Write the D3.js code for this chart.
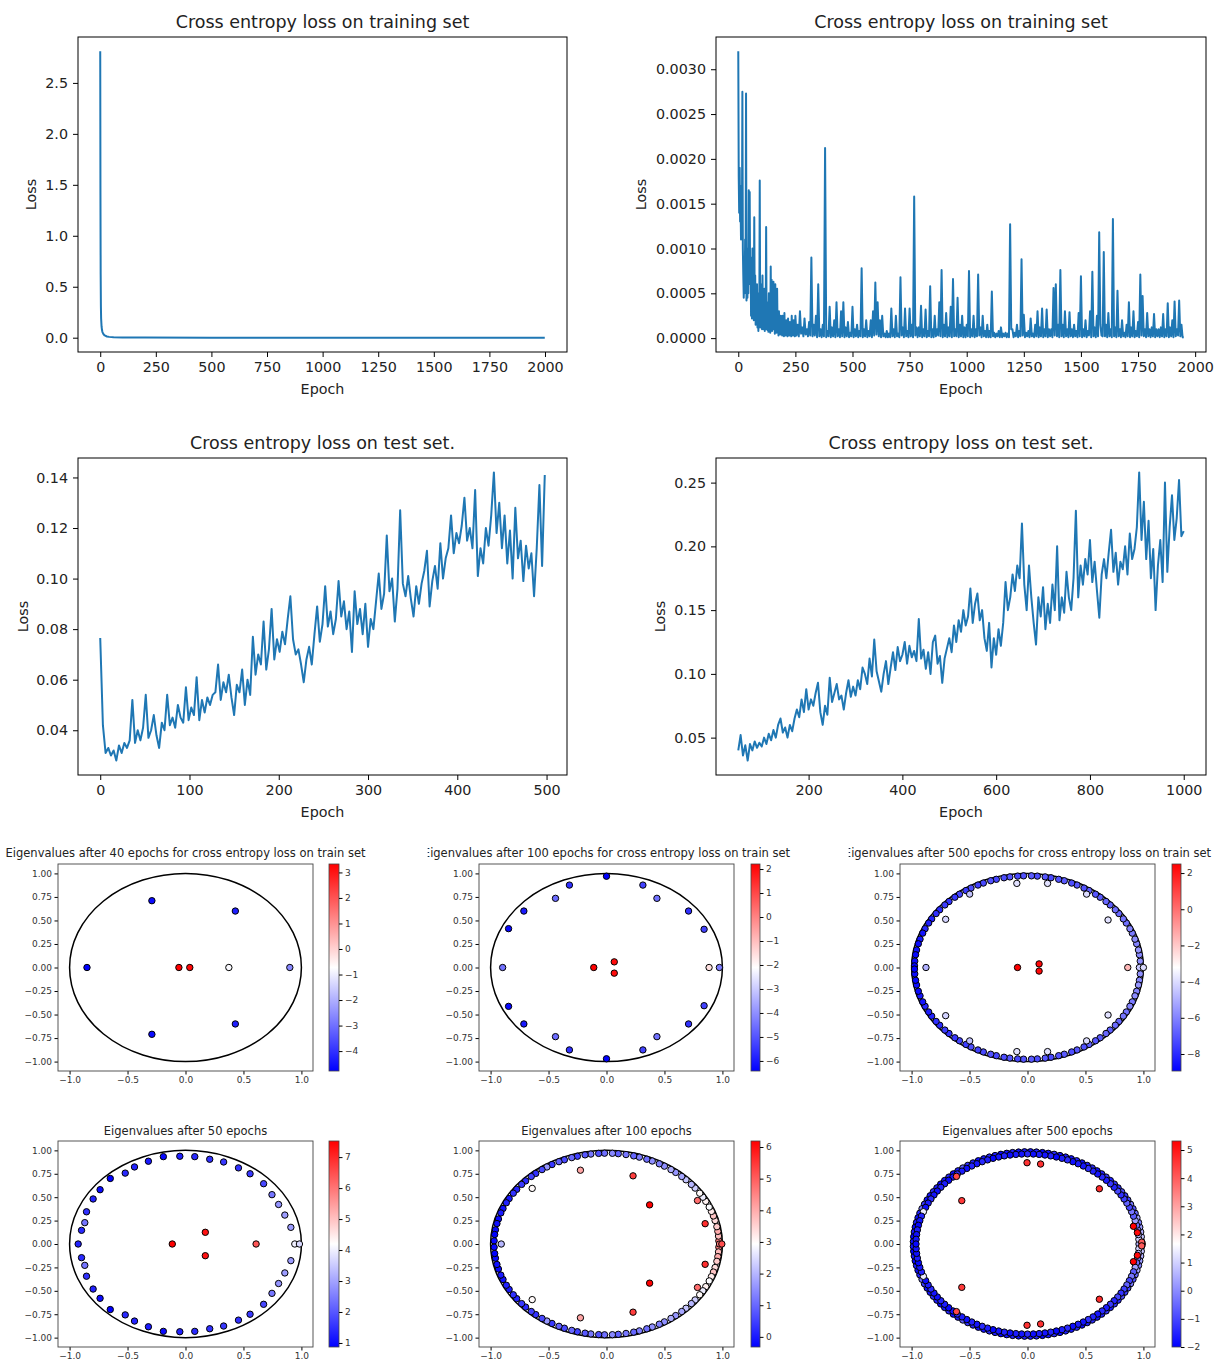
<!DOCTYPE html>
<html>
<head>
<meta charset="utf-8">
<script src="https://cdn.jsdelivr.net/npm/d3@7"></script>
<style>
  body { margin: 0; background: #fff; }
  svg text { font-family: "DejaVu Sans", sans-serif; }
</style>
</head>
<body>
<svg id="fig" width="1216" height="1362"></svg>
<script>
// ---------- loss curves ----------
// training loss, first run (irregular epochs, it drops almost straight away)
const trainEpochsA = [0, 1, 2, 3, 4, 6, 8, 10, 15, 20, 30, 40, 60, 100, 200, 500, 1000, 1500, 1999];
const trainLossA = [2.81, 1.40, 0.62, 0.31, 0.19, 0.11, 0.075, 0.055, 0.033, 0.022, 0.012, 0.008, 0.004, 0.002, 0.001, 0.0005, 0.0003, 0.0002, 0.0001];

// training loss, second run: every 2 epochs for 0..248, then every 5 epochs for 250..1950
const trainLossB_early = [
  32e-4, 18e-4, 14e-4, 19e-4, 13e-4, 15e-4, 11e-4, 17e-4, 12e-4, 27.5e-4,
  10e-4, 7e-4, 4.5e-4, 9e-4, 5e-4, 11e-4, 6e-4, 27.3e-4, 4.2e-4, 8e-4,
  4.5e-4, 10e-4, 5e-4, 16.5e-4, 7e-4, 16.3e-4, 6e-4, 9e-4, 2.5e-4, 8e-4,
  2.2e-4, 10e-4, 3e-4, 6e-4, 2e-4, 13.5e-4, 3e-4, 7e-4, 1.5e-4, 5e-4,
  2e-4, 6e-4, 1.2e-4, 4e-4, 0.8e-4, 5e-4, 1.5e-4, 17.6e-4, 1.2e-4, 6e-4,
  1.5e-4, 4e-4, 1e-4, 7e-4, 1.2e-4, 3.5e-4, 1e-4, 5.5e-4, 0.8e-4, 3e-4,
  1.5e-4, 12.4e-4, 1e-4, 4e-4, 0.9e-4, 3e-4, 0.7e-4, 5e-4, 1e-4, 2.5e-4,
  0.6e-4, 8e-4, 1.5e-4, 6.5e-4, 0.8e-4, 3e-4, 1e-4, 6.3e-4, 1e-4, 4e-4,
  0.5e-4, 6e-4, 1e-4, 2.8e-4, 0.6e-4, 5.5e-4, 1.2e-4, 2e-4, 0.3e-4, 3e-4,
  0.8e-4, 2.2e-4, 0.4e-4, 2.5e-4, 0.6e-4, 1.8e-4, 0.3e-4, 2.5e-4, 0.5e-4, 1.8e-4,
  0.2e-4, 2.8e-4, 0.6e-4, 1.5e-4, 0.3e-4, 2e-4, 0.5e-4, 1.2e-4, 0.2e-4, 2.2e-4,
  0.6e-4, 1.5e-4, 0.3e-4, 1.8e-4, 0.4e-4, 1.2e-4, 0.2e-4, 2.5e-4, 0.5e-4, 1.5e-4,
  0.3e-4, 2e-4, 0.6e-4, 1.3e-4, 0.2e-4
];
const trainLossB_late = [
  2.5e-4, 0.3e-4, 1.5e-4, 0.2e-4, 3.0e-4, 0.5e-4, 1.2e-4, 0.2e-4, 2.2e-4, 0.4e-4,
  1.0e-4, 0.2e-4, 1.8e-4, 0.3e-4, 9.0e-4, 0.2e-4, 1.5e-4, 0.3e-4, 2.5e-4, 0.1e-4,
  6.0e-4, 0.2e-4, 1.0e-4, 0.1e-4, 1.5e-4, 0.2e-4, 21.2e-4, 0.1e-4, 0.8e-4, 0.2e-4,
  3.5e-4, 0.1e-4, 1.2e-4, 0.2e-4, 2.0e-4, 0.1e-4, 4.0e-4, 0.2e-4, 1.0e-4, 0.1e-4,
  3.0e-4, 0.2e-4, 4.0e-4, 0.1e-4, 1.2e-4, 0.2e-4, 1.8e-4, 0.1e-4, 0.6e-4, 0.2e-4,
  3.5e-4, 0.1e-4, 1.0e-4, 0.2e-4, 1.5e-4, 0.1e-4, 0.8e-4, 0.2e-4, 7.8e-4, 0.1e-4,
  1.0e-4, 0.2e-4, 2.0e-4, 0.1e-4, 0.8e-4, 0.2e-4, 2.0e-4, 0.1e-4, 3.0e-4, 0.3e-4,
  6.2e-4, 0.4e-4, 4.0e-4, 0.2e-4, 2.0e-4, 0.1e-4, 2.5e-4, 0.2e-4, 0.5e-4, 0.1e-4,
  0.8e-4, 0.1e-4, 0.5e-4, 0.1e-4, 3.3e-4, 0.2e-4, 1.0e-4, 0.1e-4, 2.5e-4, 0.2e-4,
  0.5e-4, 0.1e-4, 6.8e-4, 0.3e-4, 1.2e-4, 0.1e-4, 3.3e-4, 0.2e-4, 0.8e-4, 0.1e-4,
  3.3e-4, 0.2e-4, 1.5e-4, 0.1e-4, 15.8e-4, 0.3e-4, 1.2e-4, 0.1e-4, 1.2e-4, 0.2e-4,
  3.6e-4, 0.1e-4, 1.0e-4, 0.2e-4, 3.2e-4, 0.1e-4, 0.8e-4, 0.2e-4, 5.8e-4, 0.1e-4,
  1.0e-4, 0.1e-4, 2.5e-4, 0.2e-4, 1.0e-4, 0.3e-4, 4.0e-4, 0.2e-4, 7.6e-4, 0.1e-4,
  1.5e-4, 0.2e-4, 2.8e-4, 0.1e-4, 1.2e-4, 0.2e-4, 3.5e-4, 0.1e-4, 6.6e-4, 0.2e-4,
  1.0e-4, 0.2e-4, 4.5e-4, 0.1e-4, 1.5e-4, 0.2e-4, 2.5e-4, 0.1e-4, 1.2e-4, 0.1e-4,
  1.5e-4, 0.2e-4, 7.5e-4, 0.1e-4, 1.0e-4, 0.2e-4, 2.5e-4, 0.1e-4, 1.0e-4, 0.2e-4,
  7.1e-4, 0.3e-4, 1.2e-4, 0.1e-4, 2.5e-4, 0.2e-4, 0.8e-4, 0.1e-4, 1.5e-4, 0.1e-4,
  0.8e-4, 0.1e-4, 5.2e-4, 0.2e-4, 0.6e-4, 0.1e-4, 0.5e-4, 0.2e-4, 0.8e-4, 0.1e-4,
  1.2e-4, 0.1e-4, 0.5e-4, 0.2e-4, 0.6e-4, 0.1e-4, 0.5e-4, 0.1e-4, 12.7e-4, 1.0e-4,
  1.0e-4, 0.1e-4, 0.6e-4, 0.2e-4, 1.5e-4, 0.1e-4, 0.8e-4, 0.2e-4, 8.8e-4, 0.3e-4,
  2.6e-4, 0.1e-4, 0.6e-4, 0.2e-4, 0.8e-4, 0.1e-4, 2.2e-4, 0.2e-4, 0.5e-4, 0.1e-4,
  1.5e-4, 0.2e-4, 3.0e-4, 0.1e-4, 1.2e-4, 0.2e-4, 3.3e-4, 0.1e-4, 1.0e-4, 0.2e-4,
  3.2e-4, 0.1e-4, 1.0e-4, 0.2e-4, 1.0e-4, 0.1e-4, 5.6e-4, 0.3e-4, 6.0e-4, 0.2e-4,
  1.5e-4, 0.1e-4, 7.6e-4, 0.2e-4, 1.5e-4, 0.1e-4, 3.0e-4, 0.2e-4, 1.0e-4, 0.1e-4,
  2.9e-4, 0.2e-4, 1.0e-4, 0.1e-4, 1.5e-4, 0.2e-4, 0.8e-4, 0.1e-4, 2.8e-4, 0.2e-4,
  6.9e-4, 0.1e-4, 1.0e-4, 0.2e-4, 2.0e-4, 0.1e-4, 0.8e-4, 0.3e-4, 3.0e-4, 0.1e-4,
  7.4e-4, 0.2e-4, 1.2e-4, 0.1e-4, 2.5e-4, 0.2e-4, 11.8e-4, 1.5e-4, 0.3e-4, 0.2e-4,
  9.6e-4, 0.2e-4, 1.5e-4, 0.1e-4, 2.8e-4, 0.2e-4, 1.0e-4, 0.1e-4, 13.3e-4, 0.2e-4,
  1.2e-4, 0.1e-4, 5.3e-4, 0.2e-4, 1.0e-4, 0.1e-4, 2.0e-4, 0.2e-4, 0.6e-4, 0.1e-4,
  1.5e-4, 0.2e-4, 4.0e-4, 0.1e-4, 1.2e-4, 0.2e-4, 3.0e-4, 0.1e-4, 0.8e-4, 0.2e-4,
  1.8e-4, 0.1e-4, 7.1e-4, 0.3e-4, 4.7e-4, 0.2e-4, 1.0e-4, 0.1e-4, 2.8e-4, 0.2e-4,
  1.0e-4, 0.1e-4, 1.2e-4, 0.2e-4, 2.7e-4, 0.1e-4, 1.0e-4, 0.2e-4, 1.0e-4, 0.1e-4,
  1.2e-4, 0.2e-4, 2.7e-4, 0.1e-4, 1.0e-4, 0.2e-4, 3.9e-4, 0.1e-4, 1.2e-4, 0.2e-4,
  2.0e-4, 0.1e-4, 4.1e-4, 0.2e-4, 1.0e-4, 0.3e-4, 4.2e-4, 0.2e-4, 1.5e-4, 0.1e-4,
  0.05e-4
];

// test loss, first run: every 3 epochs, 0..498
const testLossA = [
  0.0765, 0.042, 0.031, 0.033, 0.030, 0.032, 0.028, 0.034, 0.031, 0.035,
  0.033, 0.036, 0.052, 0.035, 0.040, 0.036, 0.041, 0.054, 0.037, 0.040,
  0.046, 0.038, 0.033, 0.043, 0.040, 0.054, 0.042, 0.045, 0.041, 0.050,
  0.045, 0.043, 0.057, 0.044, 0.049, 0.046, 0.061, 0.044, 0.052, 0.047,
  0.053, 0.050, 0.054, 0.055, 0.066, 0.052, 0.059, 0.055, 0.062, 0.053,
  0.046, 0.058, 0.055, 0.064, 0.050, 0.060, 0.054, 0.077, 0.062, 0.070,
  0.066, 0.083, 0.064, 0.072, 0.088, 0.068, 0.076, 0.071, 0.079, 0.074,
  0.084, 0.093, 0.076, 0.070, 0.072, 0.066, 0.059, 0.068, 0.073, 0.066,
  0.078, 0.089, 0.075, 0.082, 0.097, 0.081, 0.087, 0.078, 0.084, 0.099,
  0.085, 0.091, 0.080, 0.087, 0.071, 0.095, 0.082, 0.088, 0.078, 0.090,
  0.073, 0.084, 0.080, 0.091, 0.102, 0.088, 0.094, 0.117, 0.095, 0.100,
  0.083, 0.096, 0.127, 0.098, 0.093, 0.101, 0.092, 0.085, 0.097, 0.090,
  0.098, 0.103, 0.111, 0.089, 0.099, 0.105, 0.096, 0.114, 0.100, 0.108,
  0.112, 0.125, 0.110, 0.118, 0.114, 0.121, 0.132, 0.115, 0.120, 0.112,
  0.135, 0.101, 0.112, 0.106, 0.120, 0.113, 0.125, 0.142, 0.118, 0.130,
  0.112, 0.125, 0.106, 0.119, 0.100, 0.128, 0.108, 0.115, 0.099, 0.113,
  0.104, 0.110, 0.093, 0.112, 0.137, 0.105, 0.141
];

// test loss, second run: every 5 epochs, 50..1000
const testLossB = [
  0.040, 0.052, 0.036, 0.044, 0.032, 0.045, 0.040, 0.047, 0.042, 0.046,
  0.043, 0.050, 0.045, 0.053, 0.048, 0.056, 0.050, 0.060, 0.065, 0.054,
  0.058, 0.050, 0.060, 0.055, 0.065, 0.072, 0.066, 0.080, 0.070, 0.088,
  0.072, 0.080, 0.075, 0.085, 0.093, 0.070, 0.060, 0.075, 0.068, 0.097,
  0.078, 0.085, 0.092, 0.080, 0.083, 0.072, 0.085, 0.095, 0.082, 0.090,
  0.083, 0.095, 0.088, 0.105, 0.100, 0.092, 0.112, 0.098, 0.127, 0.102,
  0.094, 0.086, 0.100, 0.110, 0.092, 0.105, 0.117, 0.103, 0.121, 0.110,
  0.115, 0.125, 0.108, 0.122, 0.113, 0.118, 0.110, 0.143, 0.112, 0.119,
  0.104, 0.117, 0.100, 0.125, 0.130, 0.108, 0.114, 0.093, 0.112, 0.120,
  0.128, 0.117, 0.138, 0.125, 0.142, 0.133, 0.150, 0.138, 0.145, 0.167,
  0.140, 0.155, 0.163, 0.142, 0.150, 0.128, 0.118, 0.140, 0.105, 0.128,
  0.115, 0.135, 0.122, 0.140, 0.172, 0.150, 0.160, 0.178, 0.165, 0.185,
  0.175, 0.218, 0.170, 0.150, 0.185, 0.160, 0.140, 0.123, 0.160, 0.145,
  0.168, 0.135, 0.155, 0.140, 0.170, 0.150, 0.200, 0.142, 0.160, 0.148,
  0.180, 0.160, 0.150, 0.175, 0.228, 0.160, 0.185, 0.170, 0.190, 0.178,
  0.205, 0.172, 0.188, 0.165, 0.144, 0.178, 0.190, 0.175, 0.195, 0.213,
  0.180, 0.195, 0.170, 0.188, 0.182, 0.200, 0.178, 0.210, 0.190, 0.198,
  0.215, 0.258, 0.205, 0.235, 0.190, 0.220, 0.175, 0.198, 0.150, 0.185,
  0.205, 0.172, 0.250, 0.180, 0.215, 0.240, 0.205, 0.222, 0.252, 0.208,
  0.212
];

const epochTicksTrain = [0, 250, 500, 750, 1000, 1250, 1500, 1750, 2000];
const lossTicksTrainA = [0, 0.5, 1, 1.5, 2, 2.5];
const lossTicksTrainB = [0, 0.0005, 0.001, 0.0015, 0.002, 0.0025, 0.003];
const epochTicksTestA = [0, 100, 200, 300, 400, 500];
const lossTicksTestA = [0.04, 0.06, 0.08, 0.10, 0.12, 0.14];
const epochTicksTestB = [200, 400, 600, 800, 1000];
const lossTicksTestB = [0.05, 0.10, 0.15, 0.20, 0.25];

// ---------- eigenvalue spectra ----------
// only the upper half plane is listed (im >= 0); each complex value is drawn with its conjugate.
// [re, im, colour value]
const eig40Train = [
  [-0.29, 0.71, -4.6], [0.43, 0.60, -4.3], [-0.85, 0, -4.78], [-0.057, 0, 3.33],
  [0.037, 0, 3.2], [0.374, 0, -0.8], [0.90, 0, -2.6]
];
const eig100Train = [
  [0, 0.97, -6.42], [-0.32, 0.876, -5.6], [0.314, 0.876, -5.3], [-0.44, 0.735, -4.6],
  [0.435, 0.735, -4.5], [-0.713, 0.60, -6.0], [0.708, 0.60, -5.6], [-0.845, 0.413, -6.3],
  [0.842, 0.406, -5.3], [-0.896, 0, -4.5], [0.974, 0, -4.3], [0.885, 0, -1.6],
  [-0.11, 0, 2.21], [0.067, 0.06, 2.0]
];
const eig500Train = [
  [-0.092, 0.894, -3.9], [0.173, 0.894, -3.9], [-0.499, 0.78, -4.6], [0.51, 0.78, -4.0],
  [-0.706, 0.512, -4.2], [0.695, 0.505, -3.9], [-0.876, 0, -5.0], [0.865, 0, -1.6],
  [0.965, 0, -4.4], [1.0, 0, -4.0], [-0.086, 0, 2.5], [0.10, 0.038, 2.3]
];
const eig50 = [
  [-0.926, 0, 1.3], [-0.897, 0.146, 1.4], [-0.869, 0.228, 2.4], [-0.854, 0.344, 1.5],
  [-0.797, 0.481, 1.3], [-0.737, 0.58, 1.0], [-0.649, 0.70, 0.87], [-0.52, 0.757, 1.4],
  [-0.44, 0.823, 1.3], [-0.32, 0.884, 1.2], [-0.191, 0.933, 1.0], [-0.049, 0.937, 1.3],
  [0.08, 0.933, 1.4], [0.209, 0.905, 1.5], [0.329, 0.876, 1.6], [0.457, 0.813, 1.5],
  [0.557, 0.75, 1.6], [0.674, 0.644, 1.8], [0.746, 0.527, 2.4], [0.803, 0.422, 2.8],
  [0.857, 0.309, 2.9], [0.909, 0.178, 2.9], [0.943, 0, 4.0], [0.983, 0, 3.7],
  [-0.114, 0, 7.52], [0.171, 0.125, 7.3], [0.609, 0, 6.4]
];
const eig100 = [
  [-0.225, 0.788, 4.1], [0.229, 0.728, 5.4], [0.372, 0.418, 6.19], [-0.641, 0.594, 3.0],
  [-0.908, 0, 2.0], [0.785, 0.464, 4.8], [0.851, 0.217, 5.6], [0.975, 0, 4.6], [0.995, 0, 5.2]
];
const eig500 = [
  [-0.004, 0.868, 4.6], [0.113, 0.854, 4.6], [0.62, 0.59, 4.7], [-0.567, 0.463, 4.5],
  [-0.613, 0.722, 4.3], [0.914, 0.189, 5.32], [0.948, 0.121, 5.2], [0.99, 0, 5.0], [0.985, 0.02, 4.0]
];

// values sitting on the unit-circle band: modulus + [angle in degrees, colour value]
const ring500TrainMod = 0.975;
const ring500Train = [
  [4, -5.7], [8, -5.9], [11, -5.6], [15, -6.0], [18, -5.8], [22, -6.2], [25, -6.0], [29, -6.4], [32, -6.3], [36, -6.6],
  [39, -6.5], [43, -6.8], [46, -6.6], [50, -6.9], [53, -7.0], [57, -6.8], [60, -7.1], [64, -7.0], [67, -7.2], [71, -6.9],
  [74, -7.1], [78, -7.3], [81, -7.0], [85, -7.2], [88, -6.9], [92, -7.1], [95, -7.3], [99, -7.0], [102, -7.2], [106, -7.4],
  [109, -7.1], [113, -7.3], [116, -7.5], [120, -7.2], [123, -7.6], [127, -7.4], [130, -7.7], [134, -7.8], [137, -7.6], [141, -8.0],
  [144, -7.9], [148, -8.2], [151, -8.3], [155, -8.1], [158, -8.5], [162, -8.4], [165, -8.7], [169, -8.6], [172, -8.8], [176, -8.7],
  [179, -8.94]
];
const ring100Mod = 0.97;
const ring100 = [
  [2, 4.6], [5, 3.8], [8, 4.0], [11, 3.6], [15, 3.4], [18, 3.7], [21, 3.2], [24, 2.9], [28, 3.1], [31, 2.7],
  [34, 3.0], [38, 2.3], [41, 2.0], [45, 2.2], [48, 1.8], [52, 1.6], [55, 1.9], [59, 1.5], [62, 1.3], [66, 1.5],
  [69, 1.1], [73, 1.3], [76, 1.0], [80, 1.2], [84, 0.9], [87, 1.4], [91, 1.1], [94, 0.7], [98, 1.2], [101, 0.8],
  [105, 0.5], [108, 1.0], [112, 0.6], [115, 0.9], [119, 0.4], [122, 1.6], [125, 0.6], [129, 0.3], [132, 0.5], [136, 0.2],
  [139, 0.4], [143, 0.1], [146, 0.3], [150, 0.0], [153, 0.1], [157, -0.1], [160, 0.0], [164, -0.2], [167, -0.1], [171, -0.2],
  [174, -0.32], [178, -0.2]
];
const ring500OuterMod = 0.985;
const ring500Outer = [
  [1.5, 1.2], [4.5, 0.8], [7.5, 0.5], [10.5, 0.2], [13.5, -0.2], [16.5, 0.4], [19.5, -0.5], [22.5, -0.8], [25.5, -0.3], [28.5, -1.0],
  [31.5, -1.2], [34.5, -0.9], [37.5, -1.4], [40.5, -1.3], [43.5, -1.6], [46.5, -1.2], [49.5, -1.5], [52.5, -1.7], [55.5, -1.4], [58.5, -1.6],
  [61.5, -1.8], [64.5, -1.5], [67.5, -1.7], [70.5, -1.6], [73.5, -1.8], [76.5, -1.4], [79.5, -1.7], [82.5, -1.9], [85.5, -1.5], [88.5, -1.7],
  [91.5, -1.6], [94.5, -1.8], [97.5, -1.5], [100.5, -1.7], [103.5, -1.9], [106.5, -1.6], [109.5, -1.4], [112.5, -1.7], [115.5, -1.8], [118.5, -1.5],
  [121.5, -1.3], [124.5, -0.6], [127.5, -1.6], [130.5, -1.8], [133.5, -1.5], [136.5, -1.7], [139.5, -1.9], [142.5, -1.6], [145.5, -1.4], [148.5, -1.7],
  [151.5, -1.8], [154.5, -1.2], [157.5, -0.4], [160.5, -1.5], [163.5, -1.8], [166.5, -1.6], [169.5, -1.9], [172.5, -1.7], [175.5, -2.0], [178.5, -1.8]
];
const ring500InnerMod = 0.962;
const ring500Inner = [
  [0, 0.5], [3, 1.0], [6, 0.6], [9, 0.0], [12, -0.4], [15, 0.3], [18, -0.7], [21, -0.3], [24, -1.0], [27, -0.6],
  [30, -1.1], [33, -1.3], [36, -1.0], [39, -1.5], [42, -1.2], [45, -1.6], [48, -1.4], [51, -1.7], [54, -1.5], [57, -1.3],
  [60, -1.7], [63, -1.6], [66, -1.8], [69, -1.4], [72, -1.6], [75, -1.9], [78, -1.5], [81, -1.7], [84, -1.6], [87, -1.8],
  [90, -1.4], [93, -1.7], [96, -1.6], [99, -1.8], [102, -1.5], [105, -1.7], [108, -1.9], [111, -1.6], [114, -1.4], [117, -1.7],
  [120, -1.5], [123, -1.8], [126, -1.6], [129, -1.4], [132, -1.7], [135, -1.9], [138, -1.6], [141, -1.5], [144, -1.8], [147, -1.7],
  [150, -1.4], [153, -1.6], [156, -1.8], [159, 1.4], [162, -1.5], [165, -1.7], [168, -1.9], [171, -1.6], [174, -1.8], [177, -1.7],
  [180, -1.9]
];

const reTicks = [-1, -0.5, 0, 0.5, 1];
const imTicks = [-1, -0.75, -0.5, -0.25, 0, 0.25, 0.5, 0.75, 1];
const cbTicks40Train = [-4, -3, -2, -1, 0, 1, 2, 3];
const cbTicks100Train = [-6, -5, -4, -3, -2, -1, 0, 1, 2];
const cbTicks500Train = [-8, -6, -4, -2, 0, 2];
const cbTicks50 = [1, 2, 3, 4, 5, 6, 7];
const cbTicks100 = [0, 1, 2, 3, 4, 5, 6];
const cbTicks500 = [-2, -1, 0, 1, 2, 3, 4, 5];

// ---------- drawing ----------
const svg = d3.select('#fig');
const fontFam = '"DejaVu Sans", sans-serif';
let uid = 0;

// matplotlib style 5% margins
function pad(ext) {
  const s = ext[1] - ext[0];
  return [ext[0] - 0.05 * s, ext[1] + 0.05 * s];
}

function styleAxis(sel, size, color) {
  sel.attr('font-family', fontFam).attr('font-size', size);
  sel.select('.domain').remove();
  sel.selectAll('.tick line').attr('stroke', '#000').attr('stroke-width', 1);
  sel.selectAll('.tick text').attr('fill', color);
}

function lossChart(c) {
  const [l, t, r, b] = c.box;
  const data = c.epochs.map((e, i) => ({ e: e, v: c.values[i] }));
  const x = d3.scaleLinear().domain(pad(d3.extent(c.epochs))).range([l, r]);
  const y = d3.scaleLinear().domain(pad(d3.extent(c.values))).range([b, t]);
  const g = svg.append('g');

  const id = 'clip' + (uid++);
  g.append('clipPath').attr('id', id).append('rect')
    .attr('x', l).attr('y', t).attr('width', r - l).attr('height', b - t);

  g.append('path').datum(data)
    .attr('clip-path', `url(#${id})`)
    .attr('fill', 'none')
    .attr('stroke', '#1f77b4')
    .attr('stroke-width', 2)
    .attr('stroke-linejoin', 'round')
    .attr('d', d3.line().x(d => x(d.e)).y(d => y(d.v)));

  g.append('g').attr('transform', `translate(0,${b})`)
    .call(d3.axisBottom(x).tickValues(c.xTicks).tickFormat(d3.format('d')).tickSize(5).tickPadding(5))
    .call(s => styleAxis(s, 14.3, '#222'));
  g.append('g').attr('transform', `translate(${l},0)`)
    .call(d3.axisLeft(y).tickValues(c.yTicks).tickFormat(d3.format(c.yFmt)).tickSize(5).tickPadding(5))
    .call(s => styleAxis(s, 14.3, '#222'));

  g.append('rect').attr('x', l).attr('y', t).attr('width', r - l).attr('height', b - t)
    .attr('fill', 'none').attr('stroke', '#000').attr('stroke-width', 1);

  g.append('text').attr('x', (l + r) / 2).attr('y', t - 9)
    .attr('text-anchor', 'middle').attr('font-size', 17.5).attr('fill', '#222').text(c.title);
  g.append('text').attr('x', (l + r) / 2).attr('y', b + 42)
    .attr('text-anchor', 'middle').attr('font-size', 14.3).attr('fill', '#222').text('Epoch');
  g.append('text').attr('transform', `translate(${c.yLabelX},${(t + b) / 2}) rotate(-90)`)
    .attr('text-anchor', 'middle').attr('font-size', 14.3).attr('fill', '#222').text('Loss');
}

function eigPanel(c) {
  const [l, t, r, b] = c.box;
  const [cl, cr] = c.cbar;
  const x = d3.scaleLinear().domain([-1.1, 1.1]).range([l, r]);
  const y = d3.scaleLinear().domain([-1.1, 1.1]).range([b, t]);
  const g = svg.append('g');

  // ring values (polar) first, the scattered ones on top
  let pts = [];
  (c.rings || []).forEach(([mod, list]) => {
    list.forEach(([a, v]) => {
      const rad = a * Math.PI / 180;
      pts.push({ re: mod * Math.cos(rad), im: mod * Math.sin(rad), v: v });
    });
  });
  c.points.forEach(([re, im, v]) => pts.push({ re: re, im: im, v: v }));
  const all = [];
  pts.forEach(p => {
    all.push(p);
    if (Math.abs(p.im) > 1e-9) all.push({ re: p.re, im: -p.im, v: p.v });
  });

  const ext = d3.extent(all, d => d.v);
  const color = d3.scaleLinear()
    .domain([ext[0], (ext[0] + ext[1]) / 2, ext[1]])
    .range(['#0000ff', '#ffffff', '#ff0000']);

  // unit circle
  g.append('ellipse')
    .attr('cx', x(0)).attr('cy', y(0))
    .attr('rx', x(1) - x(0)).attr('ry', y(0) - y(1))
    .attr('fill', 'none').attr('stroke', '#000').attr('stroke-width', 1.5);

  g.selectAll('circle.eig').data(all).join('circle')
    .attr('class', 'eig')
    .attr('cx', d => x(d.re)).attr('cy', d => y(d.im)).attr('r', 3.2)
    .attr('fill', d => color(d.v))
    .attr('stroke', '#000').attr('stroke-width', 1);

  g.append('g').attr('transform', `translate(0,${b})`)
    .call(d3.axisBottom(x).tickValues(reTicks).tickFormat(d3.format('.1f')).tickSize(3.5).tickPadding(2.5))
    .call(s => styleAxis(s, 9, '#333'));
  g.append('g').attr('transform', `translate(${l},0)`)
    .call(d3.axisLeft(y).tickValues(imTicks).tickFormat(d3.format('.2f')).tickSize(3.5).tickPadding(2.5))
    .call(s => styleAxis(s, 9, '#333'));

  g.append('rect').attr('x', l).attr('y', t).attr('width', r - l).attr('height', b - t)
    .attr('fill', 'none').attr('stroke', '#444').attr('stroke-width', 0.9);

  // colorbar (bwr)
  const gid = 'grad' + (uid++);
  const grad = g.append('linearGradient').attr('id', gid)
    .attr('x1', 0).attr('y1', 1).attr('x2', 0).attr('y2', 0);
  grad.append('stop').attr('offset', '0%').attr('stop-color', '#0000ff');
  grad.append('stop').attr('offset', '50%').attr('stop-color', '#ffffff');
  grad.append('stop').attr('offset', '100%').attr('stop-color', '#ff0000');
  g.append('rect').attr('x', cl).attr('y', t).attr('width', cr - cl).attr('height', b - t)
    .attr('fill', `url(#${gid})`).attr('stroke', '#444').attr('stroke-width', 0.8);
  const cy = d3.scaleLinear().domain(ext).range([b, t]);
  g.append('g').attr('transform', `translate(${cr},0)`)
    .call(d3.axisRight(cy).tickValues(c.cbTicks).tickFormat(d3.format('d')).tickSize(3.5).tickPadding(2.5))
    .call(s => styleAxis(s, 9, '#333'));

  const title = g.append('text').attr('x', (l + r) / 2).attr('y', t - c.titleGap)
    .attr('text-anchor', 'middle').attr('font-size', 11.5).attr('fill', '#222').text(c.title);
  if (c.cutTitle) {
    // the neighbouring panel eats the first letter in the original figure
    const bb = title.node().getBBox();
    const cid = 'clip' + (uid++);
    g.append('clipPath').attr('id', cid).append('rect')
      .attr('x', bb.x + 4.8).attr('y', bb.y - 2).attr('width', bb.width).attr('height', bb.height + 4);
    title.attr('clip-path', `url(#${cid})`);
  }
}

// top row
lossChart({
  box: [78, 37, 567, 352], epochs: trainEpochsA, values: trainLossA,
  xTicks: epochTicksTrain, yTicks: lossTicksTrainA, yFmt: '.1f', yLabelX: 36,
  title: 'Cross entropy loss on training set'
});
lossChart({
  box: [716, 37, 1206, 352],
  epochs: d3.range(trainLossB_early.length).map(i => i * 2)
    .concat(d3.range(trainLossB_late.length).map(i => 250 + i * 5)),
  values: trainLossB_early.concat(trainLossB_late),
  xTicks: epochTicksTrain, yTicks: lossTicksTrainB, yFmt: '.4f', yLabelX: 646,
  title: 'Cross entropy loss on training set'
});

// second row
lossChart({
  box: [78, 458, 567, 775], epochs: d3.range(testLossA.length).map(i => i * 3), values: testLossA,
  xTicks: epochTicksTestA, yTicks: lossTicksTestA, yFmt: '.2f', yLabelX: 28,
  title: 'Cross entropy loss on test set.'
});
lossChart({
  box: [716, 458, 1206, 775], epochs: d3.range(testLossB.length).map(i => 50 + i * 5), values: testLossB,
  xTicks: epochTicksTestB, yTicks: lossTicksTestB, yFmt: '.2f', yLabelX: 665,
  title: 'Cross entropy loss on test set.'
});

// eigenvalue panels
eigPanel({
  box: [58, 864, 313, 1071], cbar: [329, 339], points: eig40Train, cbTicks: cbTicks40Train, titleGap: 7,
  title: 'Eigenvalues after 40 epochs for cross entropy loss on train set'
});
eigPanel({
  box: [479, 864, 734, 1071], cbar: [751, 760], points: eig100Train, cbTicks: cbTicks100Train, titleGap: 7,
  title: 'Eigenvalues after 100 epochs for cross entropy loss on train set', cutTitle: true
});
eigPanel({
  box: [900, 864, 1155, 1071], cbar: [1172, 1181], points: eig500Train, cbTicks: cbTicks500Train, titleGap: 7,
  rings: [[ring500TrainMod, ring500Train]],
  title: 'Eigenvalues after 500 epochs for cross entropy loss on train set', cutTitle: true
});
eigPanel({
  box: [58, 1141, 313, 1347], cbar: [329, 339], points: eig50, cbTicks: cbTicks50, titleGap: 6,
  title: 'Eigenvalues after 50 epochs'
});
eigPanel({
  box: [479, 1141, 734, 1347], cbar: [751, 760], points: eig100, cbTicks: cbTicks100, titleGap: 6,
  rings: [[ring100Mod, ring100]],
  title: 'Eigenvalues after 100 epochs'
});
eigPanel({
  box: [900, 1141, 1155, 1347], cbar: [1172, 1181], points: eig500, cbTicks: cbTicks500, titleGap: 6,
  rings: [[ring500OuterMod, ring500Outer], [ring500InnerMod, ring500Inner]],
  title: 'Eigenvalues after 500 epochs'
});
</script>
</body>
</html>
